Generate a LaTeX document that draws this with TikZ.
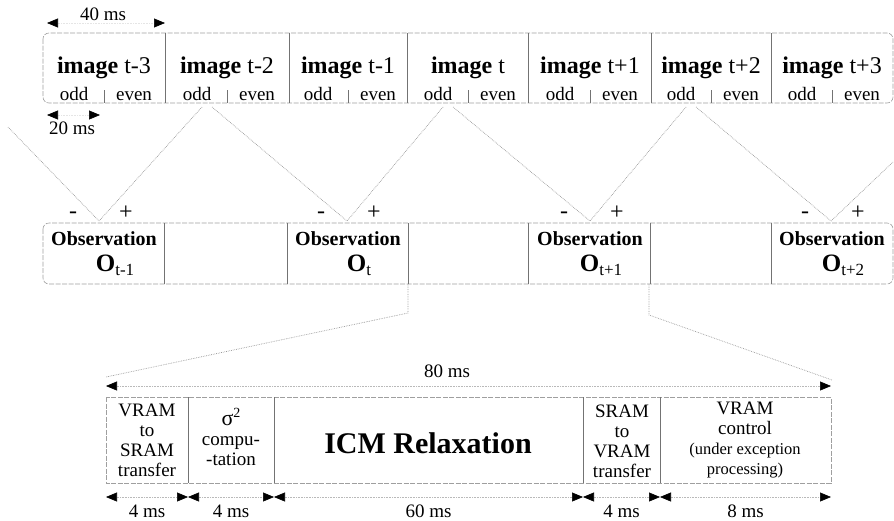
\documentclass[tikz,border=0pt]{standalone}
\usepackage{fontspec}
\setmainfont{Liberation Serif}
\usetikzlibrary{arrows.meta}
\newcommand\fsz[1]{\fontsize{#1}{#1}\selectfont}

\begin{document}
\begin{tikzpicture}[x=1pt,y=-1pt,
    frame/.style={draw=gray!75, dash pattern=on 5pt off 1.5pt, line width=0.6pt},
    divider/.style={draw=black!55, line width=0.7pt},
    link/.style={draw=gray!80, densely dotted, line width=0.7pt},
    dim/.style={draw=gray!55, densely dotted, line width=0.6pt,
      {Triangle[length=11pt,width=9pt,color=black]}-{Triangle[length=11pt,width=9pt,color=black]}},
    imgtxt/.style={anchor=base, inner sep=0pt, font=\fsz{24}},
    fieldtxt/.style={anchor=base, inner sep=0pt, font=\fsz{19}},
    obstxt/.style={anchor=base, inner sep=0pt, font=\fsz{20}\bfseries},
    sign/.style={inner sep=0pt, font=\fsz{24}},
    mslab/.style={anchor=base, inner sep=0pt, font=\fsz{19}},
    task/.style={align=center, inner sep=0pt, font=\fontsize{19}{20}\selectfont}]
  \useasboundingbox (0,0) rectangle (894,520);

  % images, 40 ms each, odd and even fields
  \draw[frame, rounded corners=6pt] (43,33) rectangle (893,103);
  \foreach \x in {165,289,407,528,651,771} \draw[divider] (\x,33) -- (\x,103);
  \foreach \x/\lab [count=\i] in {104/t-3,227/t-2,348/t-1,468/t,590/t+1,711/t+2,832/t+3} {
    \node[imgtxt] (img\i) at (\x,73) {\textbf{image} \lab};
    \node[fieldtxt] (odd\i) at (\x-30,100) {odd};
    \node[fieldtxt] (even\i) at (\x+30,100) {even};
    \draw[divider, thin] (\x,90) -- (\x,103);
  }
  \coordinate (a40) at (47,23); \coordinate (b40) at (165,23);
  \draw[dim, draw=gray!20] (a40) -- (b40);
  \node[mslab] (t40) at (103,20) {40 ms};
  \coordinate (a20) at (47,115); \coordinate (b20) at (100,115);
  \draw[dim, draw=gray!20] (a20) -- (b20);
  \node[mslab] (t20) at (72,134) {20 ms};

  % observations
  \draw[frame, rounded corners=6pt] (43,223) rectangle (893,284);
  \foreach \x in {164,287,408,528,650,771} \draw[divider] (\x,223) -- (\x,284);
  \foreach \x/\lab [count=\i] in {104/t-1,348/t,590/t+1,832/t+2} {
    \node[obstxt] (obs\i) at (\x,245) {Observation};
    \node[anchor=base, inner sep=0pt] (O\i) at (\x+11,271)
      {\fsz{25}\bfseries O\fsz{17}\mdseries\raisebox{-4pt}{\lab}};
  }
  \foreach \x [count=\i] in {99,347,590,831} {
    \coordinate (ap\i) at (\x,221);
    \node[sign] (m\i) at (\x-26,215) {-};
    \node[sign] (p\i) at (\x+27,213) {+};
  }
  \coordinate (in) at (8,127); \coordinate (out) at (893,162);
  \draw[link] (in) -- (ap1);
  \draw[link] ([xshift=5pt,yshift=-7pt]odd2.base) -- (ap1);
  \draw[link] ([xshift=15pt,yshift=-7pt]odd2.base) -- (ap2);
  \draw[link] ([xshift=5pt,yshift=-7pt]odd4.base) -- (ap2);
  \draw[link] ([xshift=15pt,yshift=-7pt]odd4.base) -- (ap3);
  \draw[link] ([xshift=5pt,yshift=-7pt]odd6.base) -- (ap3);
  \draw[link] ([xshift=15pt,yshift=-7pt]odd6.base) -- (ap4);
  \draw[link] (ap4) -- (out);

  % 80 ms of processing
  \coordinate (zl) at (408,284); \coordinate (zr) at (649,284);
  \coordinate (zbl) at (106,377); \coordinate (zbr) at (832,380);
  \draw[link] (zl) -- ++(0,29) -- (zbl);
  \draw[link] (zr) -- ++(0,31) -- (zbr);
  \coordinate (e0) at (106,386); \coordinate (e1) at (831,386);
  \draw[dim] (e0) -- (e1);
  \node[mslab] (t80) at (447,377) {80 ms};

  \draw[frame] (106,397) rectangle (831,483);
  \foreach \x in {188,274,583,660} \draw[divider] (\x,397) -- (\x,483);
  \node[task] (vs) at (147,440) {VRAM\\to\\SRAM\\transfer};
  \node[task] (sig) at (231,437) {{\fsz{22}σ\raisebox{8pt}{\fsz{14}2}}\\compu-\\-tation};
  \node[task, font=\fsz{30}\bfseries] (icm) at (428,443) {ICM Relaxation};
  \node[task] (sv) at (622,441) {SRAM\\to\\VRAM\\transfer};
  \node[task] (vc) at (745,440) {VRAM\\control\\{\fsz{16.5}(under exception}\\{\fsz{16.5}processing)}};

  \foreach \x [count=\i from 0] in {106,188,274,583,660,831} \coordinate (d\i) at (\x,497);
  \draw[dim] (d0) -- node[mslab, yshift=-20pt] (t4a) {4 ms} (d1);
  \draw[dim] (d1) -- node[mslab, yshift=-20pt] (t4b) {4 ms} (d2);
  \draw[dim] (d2) -- node[mslab, yshift=-20pt] (t60) {60 ms} (d3);
  \draw[dim] (d3) -- node[mslab, yshift=-20pt] (t4c) {4 ms} (d4);
  \draw[dim] (d4) -- node[mslab, yshift=-20pt] (t8) {8 ms} (d5);
\end{tikzpicture}
\end{document}
